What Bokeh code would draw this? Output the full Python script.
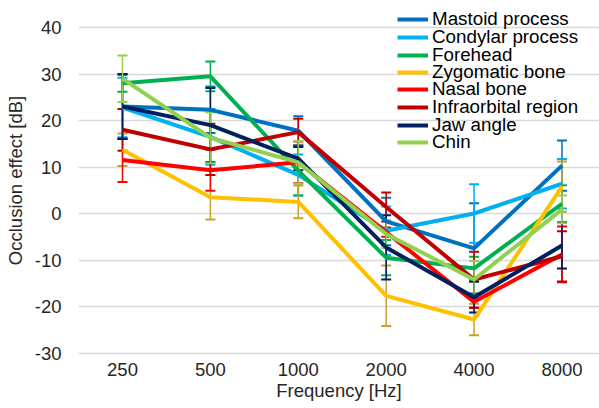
from bokeh.plotting import figure
from bokeh.models import (Range1d, FixedTicker, ColumnDataSource, Whisker, TeeHead,
                          Legend, LegendItem)
from bokeh.embed import file_html
from bokeh.resources import INLINE

categories = ["250", "500", "1000", "2000", "4000", "8000"]
y_ticks = [-30, -20, -10, 0, 10, 20, 30, 40]
series_names = ["Mastoid process", "Condylar process", "Forehead", "Zygomatic bone",
                "Nasal bone", "Infraorbital region", "Jaw angle", "Chin"]
colors = ["#0070C0", "#00B0F0", "#00B050", "#FFC000", "#FF0000", "#C00000", "#002060", "#92D050"]
bar_colors = ["#0070C0", "#00B0F0", "#00B050", "#C9A227", "#FF0000", "#C00000", "#002060", "#92D050"]

mastoid = [23.0, 22.3, 17.8, -1.7, -7.5, 10.3]
mastoid_err = [7.0, 5.0, 3.1, 5.1, 9.7, 5.4]
condylar = [22.8, 16.5, 8.3, -3.7, 0.0, 6.4]
condylar_err = [6.4, 6.0, 4.4, 5.2, 6.3, 5.3]
forehead = [28.0, 29.5, 9.2, -9.5, -11.8, 2.1]
forehead_err = [1.8, 3.2, 5.3, 3.8, 2.5, 4.0]
zygomatic = [13.7, 3.5, 2.5, -17.7, -22.8, 5.8]
zygomatic_err = [3.5, 4.8, 3.5, 6.5, 3.4, 5.4]
nasal = [11.5, 9.3, 11.0, -4.0, -19.0, -8.8]
nasal_err = [4.7, 4.4, 4.5, 1.0, 1.3, 6.0]
infraorbital = [18.0, 13.8, 17.5, 1.4, -14.2, -9.2]
infraorbital_err = [4.5, 5.5, 2.9, 3.1, 6.0, 5.4]
jaw = [23.0, 19.0, 11.8, -7.3, -18.0, -6.9]
jaw_err = [7.0, 8.0, 2.5, 6.9, 3.3, 4.9]
chin = [29.0, 16.3, 11.0, -4.4, -14.2, 0.9]
chin_err = [5.0, 5.5, 4.6, 3.0, 4.0, 3.0]

all_values = [mastoid, condylar, forehead, zygomatic, nasal, infraorbital, jaw, chin]
all_errors = [mastoid_err, condylar_err, forehead_err, zygomatic_err, nasal_err,
              infraorbital_err, jaw_err, chin_err]

xs = list(range(len(categories)))

FIG_W, FIG_H = 599, 408
BORDER_LEFT = 78
BORDER_TOP = 6
BORDER_BOTTOM = 54
frame_h = FIG_H - BORDER_TOP - BORDER_BOTTOM

p = figure(width=FIG_W, height=FIG_H, output_backend="svg", toolbar_location=None,
           x_range=Range1d(-0.5006, 5.427), y_range=Range1d(-30.32, 44.52),
           min_border_left=BORDER_LEFT, min_border_right=0,
           min_border_top=BORDER_TOP, min_border_bottom=BORDER_BOTTOM)
p.outline_line_color = None
p.background_fill_color = "white"

text_color = "#262626"
font = "Liberation Sans"

p.xaxis.ticker = FixedTicker(ticks=xs)
p.xaxis.major_label_overrides = {i: c for i, c in enumerate(categories)}
p.yaxis.ticker = FixedTicker(ticks=y_ticks)
p.yaxis.major_label_overrides = {t: str(t) for t in y_ticks}
for ax in (p.xaxis[0], p.yaxis[0]):
    ax.axis_line_color = None
    ax.major_tick_line_color = None
    ax.minor_tick_line_color = None
    ax.major_tick_out = 0
    ax.major_tick_in = 0
    ax.minor_tick_out = 0
    ax.minor_tick_in = 0
    ax.major_label_text_font = font
    ax.major_label_text_font_size = "18.5px"
    ax.major_label_text_color = text_color
    ax.axis_label_text_font = font
    ax.axis_label_text_font_size = "18.5px"
    ax.axis_label_text_font_style = "normal"
    ax.axis_label_text_color = text_color
p.xaxis.axis_label = "Frequency [Hz]"
p.yaxis.axis_label = "Occlusion effect [dB]"
p.xaxis.major_label_standoff = 8
p.xaxis.axis_label_standoff = 1
p.yaxis.major_label_standoff = 17
p.yaxis.axis_label_standoff = 6

p.xgrid.grid_line_color = None
p.ygrid.grid_line_color = "#D9D9D9"
p.ygrid.grid_line_width = 1.5

row_step = 17.5
first_row_center = 19.5  # figure px from its top
for i, (name, vals, errs, col, bcol) in enumerate(
        zip(series_names, all_values, all_errors, colors, bar_colors)):
    src = ColumnDataSource(dict(x=xs, y=vals,
                                upper=[v + e for v, e in zip(vals, errs)],
                                lower=[v - e for v, e in zip(vals, errs)]))
    r = p.line("x", "y", source=src, line_color=col, line_width=4)
    w = Whisker(source=src, base="x", upper="upper", lower="lower",
                line_color=bcol, line_width=1.5,
                upper_head=TeeHead(size=10, line_color=bcol, line_width=2),
                lower_head=TeeHead(size=10, line_color=bcol, line_width=2))
    p.add_layout(w)
    center = first_row_center + row_step * i
    loc = (319, int(round((BORDER_TOP + frame_h) - center - 11)))
    leg = Legend(items=[LegendItem(label=name, renderers=[r])], location=loc)
    leg.background_fill_alpha = 0
    leg.border_line_color = None
    leg.padding = 0
    leg.margin = 0
    leg.spacing = 0
    leg.label_height = 22
    leg.glyph_height = 22
    leg.glyph_width = 31
    leg.label_standoff = 4
    leg.label_text_font = font
    leg.label_text_font_size = "18.8px"
    leg.label_text_color = "#000000"
    p.add_layout(leg, "center")

open("out.html", "w").write(file_html(p, INLINE))
